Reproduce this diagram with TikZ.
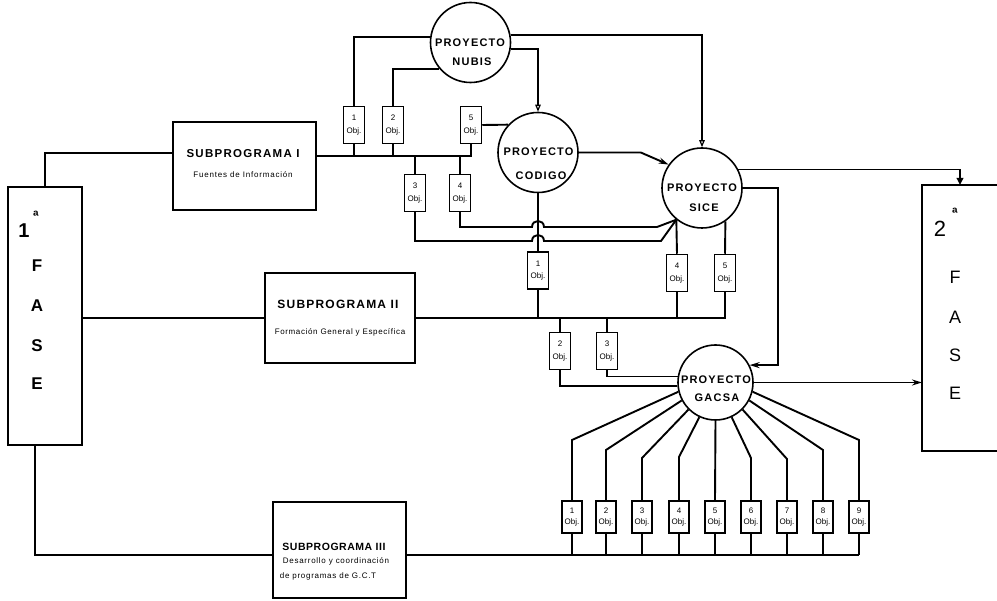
\documentclass[tikz,border=0pt]{standalone}
\usepackage{fontspec}
\setmainfont{Liberation Sans}
\usetikzlibrary{arrows.meta}
\tikzset{
  ln/.style={line width=1.9pt},
  boxln/.style={draw, line width=1.9pt, inner sep=0pt},
  objb/.style={draw, line width=1.5pt, fill=white, minimum width=21pt, minimum height=37pt, inner sep=0pt, align=center, font=\fontsize{8}{12.5}\selectfont},
  objs/.style={objb, minimum width=20pt, minimum height=32pt, font=\fontsize{8}{11.5}\selectfont},
  proj/.style={circle, draw, line width=1.6pt, minimum size=80pt, inner sep=0pt},
  smallproj/.style={proj, minimum size=75pt},
  ptxt/.style={inner sep=0pt, font=\fontsize{11}{11}\selectfont\bfseries\addfontfeature{LetterSpace=11}},
  subtitle/.style={inner sep=0pt, font=\fontsize{11.5}{11.5}\selectfont\bfseries\addfontfeature{LetterSpace=11}},
  subtxt/.style={inner sep=0pt, font=\fontsize{8}{8}\selectfont\addfontfeature{LetterSpace=10}},
  faseL/.style={inner sep=0pt, font=\fontsize{17}{17}\selectfont\bfseries},
  faseR/.style={inner sep=0pt, font=\fontsize{18}{18}\selectfont},
  ordL/.style={inner sep=0pt, font=\fontsize{15}{15}\selectfont\bfseries},
  openarr/.style={-{Triangle[open,length=7pt,width=5.5pt,line width=1.2pt]}},
  fillarr/.style={-{Stealth[length=10pt,width=6pt]}},
  downarr/.style={-{Triangle[length=7pt,width=6.5pt]}}
}
\begin{document}
\begin{tikzpicture}[x=1pt,y=-1pt]
\useasboundingbox (0,0) rectangle (997,601);

% ---------- 1a FASE ----------
\node[boxln, minimum width=74pt, minimum height=258pt] (f1) at (45,316) {};
\node[inner sep=0pt, font=\fontsize{20}{20}\selectfont\bfseries] (f1n) at (24,231) {1};
\node[ordL] (f1a) at (36,216) {ª};
\node[faseL] (f1F) at (37,266) {F};
\node[faseL] (f1A) at (37,306) {A};
\node[faseL] (f1S) at (37,346) {S};
\node[faseL] (f1E) at (37,384) {E};

% ---------- 2a FASE ----------
\coordinate (f2nw) at (922,185);
\coordinate (f2sw) at (922,451);
\coordinate (f2in) at (960,185);
\draw[ln] (997,185) -- (f2nw) -- (f2sw) -- (997,451);
\node[inner sep=0pt, font=\fontsize{22}{22}\selectfont] (f2n) at (940,229) {2};
\node[ordL] (f2a) at (955,213) {ª};
\node[faseR] (f2F) at (955,277) {F};
\node[faseR] (f2A) at (955,317) {A};
\node[faseR] (f2S) at (955,355) {S};
\node[faseR] (f2E) at (955,393) {E};

% ---------- Subprogramas ----------
\node[boxln, minimum width=143pt, minimum height=88pt] (sub1) at (244.5,166) {};
\node[subtitle] (sub1t) at (243,154) {SUBPROGRAMA I};
\node[subtxt] (sub1s) at (243,175) {Fuentes de Información};

\node[boxln, minimum width=150pt, minimum height=90pt] (sub2) at (340,318) {};
\node[subtitle, font=\fontsize{12}{12}\selectfont\bfseries\addfontfeature{LetterSpace=10}] (sub2t) at (338,304) {SUBPROGRAMA II};
\node[subtxt, font=\fontsize{8}{8}\selectfont\addfontfeature{LetterSpace=8}] (sub2s) at (340,332) {Formación General y Específica};

\node[boxln, minimum width=133pt, minimum height=96pt] (sub3) at (339.5,550) {};
\node[subtitle, font=\fontsize{10.5}{10.5}\selectfont\bfseries\addfontfeature{LetterSpace=5}] (sub3t) at (334,547) {SUBPROGRAMA III};
\node[subtxt, font=\fontsize{8}{8}\selectfont\addfontfeature{LetterSpace=9}] (sub3s) at (336,561) {Desarrollo y coordinación};
\node[subtxt, font=\fontsize{8}{8}\selectfont\addfontfeature{LetterSpace=9}] (sub3u) at (328,576) {de programas de G.C.T};

% ---------- Proyectos ----------
\node[proj] (nubis) at (470.5,42.5) {};
\node[ptxt] (nubist) at (470,43) {PROYECTO};
\node[ptxt] (nubisu) at (472,62) {NUBIS};

\node[proj] (codigo) at (538,152.5) {};
\node[ptxt] (codigot) at (538.5,152) {PROYECTO};
\node[ptxt] (codigou) at (541,176) {CODIGO};

\node[proj] (sice) at (702,188) {};
\node[ptxt] (sicet) at (702,188) {PROYECTO};
\node[ptxt] (siceu) at (704,208) {SICE};

\node[smallproj] (gacsa) at (715.5,382.5) {};
\node[ptxt] (gacsat) at (716,380) {PROYECTO};
\node[ptxt] (gacsau) at (717,398) {GACSA};

% ---------- Objetivos: grupo superior ----------
\node[objb] (o1t) at (354,125) {1\\Obj.};
\node[objb] (o2t) at (393,125) {2\\Obj.};
\node[objb] (o5t) at (471,125) {5\\Obj.};
\node[objb] (o3m) at (415,193) {3\\Obj.};
\node[objb] (o4m) at (460,193) {4\\Obj.};

% ---------- Objetivos: grupo medio ----------
\node[objb] (o1m) at (538,270.5) {1\\Obj.};
\node[objb] (o4m2) at (677,273) {4\\Obj.};
\node[objb] (o5m) at (725,273) {5\\Obj.};
\node[objb] (o2l) at (560,351) {2\\Obj.};
\node[objb] (o3l) at (607,351) {3\\Obj.};

% ---------- Objetivos: GACSA ----------
\foreach \i/\x in {1/572,2/606,3/642,4/679,5/715,6/751,7/787,8/823,9/859}
  \node[objs] (ob\i) at (\x,517) {\i\\Obj.};

% ---------- Conectores: fase 1 ----------
\draw[ln] (f1.north) |- (sub1.west |- 0,153);
\draw[ln] (f1.east |- sub2.west) -- (sub2.west);
\draw[ln] (f1.south -| 35,0) |- (sub3.west |- 0,555);

% ---------- Subprograma I ----------
\draw[ln] (sub1.east |- 0,156) -- (o5t.south |- 0,156) -- (o5t.south);
\draw[ln] (o1t.south) -- (o1t.south |- 0,156);
\draw[ln] (o2t.south) -- (o2t.south |- 0,156);
\draw[ln] (o3m.north) -- (o3m.north |- 0,156);
\draw[ln] (o4m.north) -- (o4m.north |- 0,156);
\draw[ln] (o1t.north) |- (nubis.172);
\draw[ln] (o2t.north) |- (nubis.220);
\draw[ln] (o5t.east) -- (codigo.137);
\draw[ln] (o4m.south) |- (532,227) .. controls (532,219) and (544,219) .. (544,227) -- (657,227) -- (sice.231);
\draw[ln] (o3m.south) |- (532,241) .. controls (532,233) and (544,233) .. (544,241) -- (661,241) -- (sice.231);

% ---------- Proyectos ----------
\draw[ln, openarr] (nubis.10) -| (sice.north);
\draw[ln, openarr] (nubis.-9) -| (codigo.north);
\draw[ln, fillarr] (codigo.east) -- ++(62,0) -- (sice.145);
\draw[ln] (codigo.south) -- (o1m.north);
\draw[ln] (o4m2.north) -- (sice.231);
\draw[ln] (o5m.north) -- (sice.305);
\draw[ln, downarr] (sice.27) -| (f2in);
\draw[ln, fillarr] (sice.east) -- ++(35,0) |- (gacsa.27);
\draw[ln, fillarr] (gacsa.east) -- (gacsa.east -| f2nw);

% ---------- Subprograma II ----------
\draw[ln] (sub2.east) -- (o5m.south |- sub2.east) -- (o5m.south);
\draw[ln] (o1m.south) -- (o1m.south |- sub2.east);
\draw[ln] (o4m2.south) -- (o4m2.south |- sub2.east);
\draw[ln] (o2l.north) -- (o2l.north |- sub2.east);
\draw[ln] (o3l.north) -- (o3l.north |- sub2.east);
\draw[ln] (o2l.south) |- (gacsa.185);
\draw[ln] (o3l.south) |- (gacsa.171);

% ---------- GACSA y Subprograma III ----------
\foreach \i/\by/\ang in {1/440/194,2/450/208,3/458/225,4/457/245,6/458/295,7/459/315,8/450/332,9/440/346}
  \draw[ln] (ob\i.north) -- (ob\i.north |- 0,\by) -- (gacsa.\ang);
\draw[ln] (ob5.north) -- (gacsa.south);
\draw[ln] (sub3.east |- 0,555) -- (ob9.south |- 0,555);
\foreach \i in {1,...,9}
  \draw[ln] (ob\i.south) -- (ob\i.south |- 0,555);
\end{tikzpicture}
\end{document}
